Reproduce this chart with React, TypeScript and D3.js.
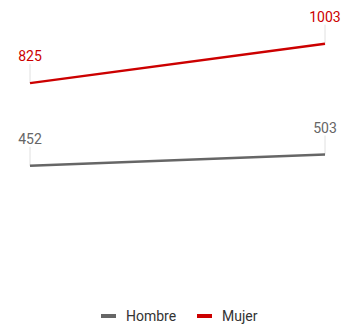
import React from "react";
import * as d3 from "d3";

const years = ["A", "B"];
const seriesNames = ["Hombre", "Mujer"];
const hombre = [452, 503];
const mujer = [825, 1003];
const colors = ["#666666", "#cc0000"];

export default function App() {
  const W = 346, H = 324;
  const x = d3.scalePoint<string>().domain(years).range([30, 325]);
  const y = d3.scaleLinear().domain([0, 1200]).range([266, 0]);
  const line = d3.line<number>().x((_, i) => x(years[i])!).y((d) => y(d));
  const series = [hombre, mujer];
  const font = "Roboto, 'Noto Sans', sans-serif";
  return (
    <svg width={W} height={H} style={{ position: "absolute", left: 0, top: 0 }} fontFamily={font}>
      {series.map((s, si) => (
        <g key={si}>
          {s.map((v, i) => (
            <line key={i} x1={x(years[i])} x2={x(years[i])} y1={y(v) - 19} y2={y(v)} stroke="#e0e0e0" strokeWidth={1} />
          ))}
          <path d={line(s) || ""} fill="none" stroke={colors[si]} strokeWidth={2.5} />
          {s.map((v, i) => (
            <text key={"t" + i} x={x(years[i])} y={y(v) - 22} textAnchor="middle" fontSize={14} fill={colors[si]}>
              {v}
            </text>
          ))}
        </g>
      ))}
      {seriesNames.map((n, i) => {
        const lx = i === 0 ? 101 : 197;
        return (
          <g key={n}>
            <rect x={lx} y={314} width={15} height={4} fill={colors[i]} />
            <text x={lx + 25} y={321} fontSize={14} fill="#333">{n}</text>
          </g>
        );
      })}
    </svg>
  );
}
